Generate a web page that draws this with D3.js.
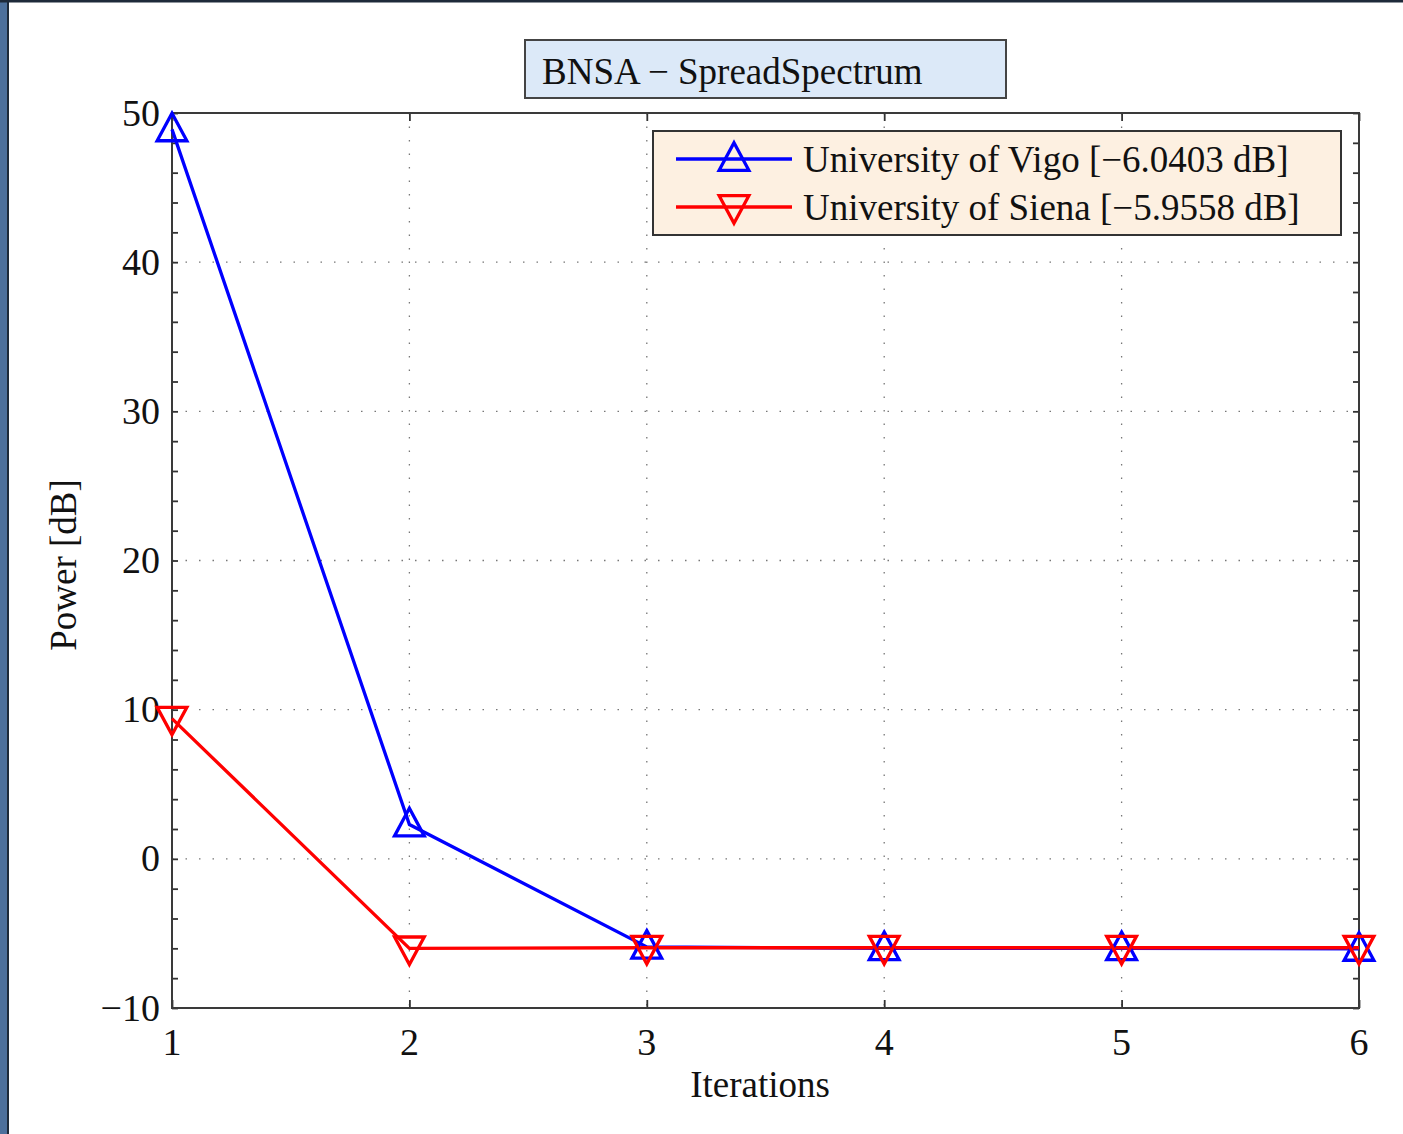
<!DOCTYPE html>
<html><head><meta charset="utf-8">
<script src="https://cdn.jsdelivr.net/npm/d3@7"></script>
<style>
html,body{margin:0;padding:0;background:#fff;}
svg{display:block;}
</style></head>
<body>
<script>
const iterations = [1, 2, 3, 4, 5, 6];
const vigo = [48.9, 2.3, -5.9, -6.0, -6.0, -6.04];
const siena = [9.4, -6.0, -5.96, -5.96, -5.96, -5.96];
const yTicks = [-10, 0, 10, 20, 30, 40, 50];
const xTicks = [1, 2, 3, 4, 5, 6];
const seriesNames = ["University of Vigo [\u22126.0403 dB]", "University of Siena [\u22125.9558 dB]"];
const titleText = "BNSA \u2212 SpreadSpectrum";

const W = 1403, H = 1134;
const svg = d3.select("body").append("svg").attr("width", W).attr("height", H);
const font = "'Liberation Serif', 'Times New Roman', serif";

// page frame
svg.append("rect").attr("x",0).attr("y",0).attr("width",W).attr("height",H).attr("fill","#fff");
svg.append("rect").attr("x",0).attr("y",0).attr("width",7).attr("height",H).attr("fill","#4d709c");
svg.append("rect").attr("x",7).attr("y",0).attr("width",2).attr("height",H).attr("fill","#1e2a3a");
svg.append("rect").attr("x",0).attr("y",0).attr("width",W).attr("height",2.5).attr("fill","#1e2a3a");

const L = 172, R = 1359, T = 113, B = 1008;
const x = d3.scaleLinear().domain([1, 6]).range([L, R]);
const y = d3.scaleLinear().domain([-10, 50]).range([B, T]);

// grid
const grid = svg.append("g");
grid.selectAll(".gx").data(xTicks.slice(1, -1)).join("line")
  .attr("x1", d => x(d)).attr("x2", d => x(d)).attr("y1", T).attr("y2", B)
  .attr("stroke", "#777").attr("stroke-width", 1.3).attr("stroke-dasharray", "1.5,12");
grid.selectAll(".gy").data(yTicks.slice(1, -1)).join("line")
  .attr("x1", L).attr("x2", R).attr("y1", d => y(d)).attr("y2", d => y(d))
  .attr("stroke", "#777").attr("stroke-width", 1.3).attr("stroke-dasharray", "1.5,12");

// axes
const minorY = d3.range(-10, 50.1, 2);
const axisColor = "#333";
const axL = svg.append("g").attr("transform", `translate(${L},0)`)
  .call(d3.axisRight(y).tickValues(minorY).tickSize(6).tickFormat(""));
const axR = svg.append("g").attr("transform", `translate(${R},0)`)
  .call(d3.axisLeft(y).tickValues(minorY).tickSize(6).tickFormat(""));
const axB = svg.append("g").attr("transform", `translate(0,${B})`)
  .call(d3.axisTop(x).tickValues(xTicks).tickSize(8).tickFormat(""));
const axT = svg.append("g").attr("transform", `translate(0,${T})`)
  .call(d3.axisBottom(x).tickValues(xTicks).tickSize(8).tickFormat(""));
[axL, axR, axB, axT].forEach(a => {
  a.select(".domain").remove();
  a.selectAll("line").attr("stroke", axisColor).attr("stroke-width", 1.8);
});
svg.append("rect").attr("x", L).attr("y", T).attr("width", R - L).attr("height", B - T)
  .attr("fill", "none").attr("stroke", "#3a3a3a").attr("stroke-width", 2);

// tick labels
svg.append("g").selectAll("text").data(yTicks).join("text")
  .attr("x", L - 12).attr("y", d => y(d)).attr("dy", "0.33em")
  .attr("text-anchor", "end").attr("font-family", font).attr("font-size", 38).attr("fill", "#111")
  .text(d => d < 0 ? "\u2212" + Math.abs(d) : d);
svg.append("g").selectAll("text").data(xTicks).join("text")
  .attr("x", d => x(d)).attr("y", B + 47)
  .attr("text-anchor", "middle").attr("font-family", font).attr("font-size", 38).attr("fill", "#111")
  .text(d => d);

// axis labels
svg.append("text").attr("x", 760).attr("y", 1097).attr("text-anchor", "middle")
  .attr("font-family", font).attr("font-size", 37).attr("fill", "#111").text("Iterations");
svg.append("text").attr("transform", "translate(76,565) rotate(-90)").attr("text-anchor", "middle")
  .attr("font-family", font).attr("font-size", 37).attr("fill", "#111").text("Power [dB]");

// markers
const triUp = (cx, cy, s) => `M${cx},${cy - s * 0.6}L${cx + s * 0.55},${cy + s * 0.42}L${cx - s * 0.55},${cy + s * 0.42}Z`;
const triDown = (cx, cy, s) => `M${cx},${cy + s * 0.6}L${cx + s * 0.55},${cy - s * 0.42}L${cx - s * 0.55},${cy - s * 0.42}Z`;
const line = d3.line().x((d, i) => x(iterations[i])).y(d => y(d));

const series = [
  {vals: vigo, color: "#0000ff", marker: triUp},
  {vals: siena, color: "#ff0000", marker: triDown}
];
series.forEach(s => {
  svg.append("path").attr("d", line(s.vals)).attr("fill", "none")
    .attr("stroke", s.color).attr("stroke-width", 3.3);
});
series.forEach(s => {
  svg.append("g").selectAll("path").data(s.vals).join("path")
    .attr("d", (d, i) => s.marker(x(iterations[i]), y(d), 27))
    .attr("fill", "none").attr("stroke", s.color).attr("stroke-width", 3.3);
});

// title box
svg.append("rect").attr("x", 525).attr("y", 40).attr("width", 481).attr("height", 58)
  .attr("fill", "#dce9f8").attr("stroke", "#444").attr("stroke-width", 2);
svg.append("text").attr("x", 542).attr("y", 84).attr("font-family", font).attr("font-size", 37)
  .attr("fill", "#111").text(titleText);

// legend
svg.append("rect").attr("x", 653).attr("y", 131).attr("width", 688).attr("height", 104)
  .attr("fill", "#fdf0e1").attr("stroke", "#333").attr("stroke-width", 2);
series.forEach((s, i) => {
  const ly = 159 + i * 48;
  svg.append("line").attr("x1", 676).attr("x2", 792).attr("y1", ly).attr("y2", ly)
    .attr("stroke", s.color).attr("stroke-width", 3.3);
  svg.append("path").attr("d", s.marker(734, ly, 27)).attr("fill", "none")
    .attr("stroke", s.color).attr("stroke-width", 3.3);
  svg.append("text").attr("x", 803).attr("y", ly + 13).attr("font-family", font)
    .attr("font-size", 37).attr("fill", "#111").text(seriesNames[i]);
});
</script>
</body></html>
